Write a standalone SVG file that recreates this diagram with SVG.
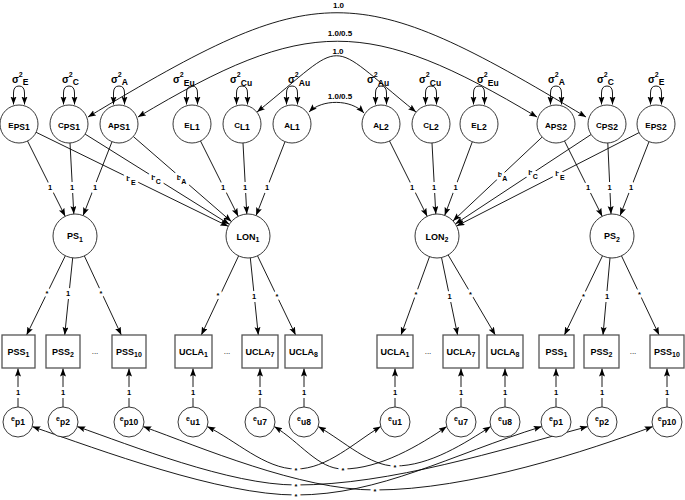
<svg xmlns="http://www.w3.org/2000/svg" width="685" height="500" viewBox="0 0 685 500">
<defs>
<marker id="ah" markerWidth="9" markerHeight="7" refX="8" refY="3" orient="auto-start-reverse" markerUnits="userSpaceOnUse"><path d="M0,0 L8,3 L0,6 L1.5,3 z" fill="#000"/></marker>
<style>
text{font-family:"Liberation Sans",Arial,sans-serif;font-weight:bold;fill:#000}
.ln{stroke:#000;stroke-width:0.9;fill:none}
.arr{marker-end:url(#ah)}
.both{marker-start:url(#ah);marker-end:url(#ah)}
.nd circle{fill:#fff;stroke:#222;stroke-width:0.9}
.bx{fill:#fff;stroke:#555;stroke-width:1.3}
.lbl{font-size:7.5px;text-anchor:middle;stroke:#fff;stroke-width:6;paint-order:stroke;stroke-linejoin:round}
.arc{font-size:8px;text-anchor:middle}
.sg{font-size:10px}
.t{text-anchor:middle;font-size:8px}
.m{text-anchor:middle;font-size:9px}
.e{text-anchor:middle;font-size:7px}
.dots{font-size:8px;text-anchor:middle;font-weight:normal}
</style>
</defs>
<g id="connectors">
<path class="ln both" d="M88,117 C319,-22 355,-22 586,117"/>
<path class="ln both" d="M138,117 C307,16 368,16 537,117"/>
<path class="ln both" d="M257,112 C350,37 323,37 416,112"/>
<path class="ln both" d="M309,112 C322,99 351,99 364,113"/>
<g class="ln both">
<path d="M13.5,104.5 L13.5,93 Q13.5,86 19,86 Q24.5,86 24.5,93 L24.5,104.5"/>
<path d="M63.5,104.5 L63.5,93 Q63.5,86 69,86 Q74.5,86 74.5,93 L74.5,104.5"/>
<path d="M113.5,104.5 L113.5,93 Q113.5,86 119,86 Q124.5,86 124.5,93 L124.5,104.5"/>
<path d="M186.5,104.5 L186.5,93 Q186.5,86 192,86 Q197.5,86 197.5,93 L197.5,104.5"/>
<path d="M236.5,104.5 L236.5,93 Q236.5,86 242,86 Q247.5,86 247.5,93 L247.5,104.5"/>
<path d="M286.5,104.5 L286.5,93 Q286.5,86 292,86 Q297.5,86 297.5,93 L297.5,104.5"/>
<path d="M375.5,104.5 L375.5,93 Q375.5,86 381,86 Q386.5,86 386.5,93 L386.5,104.5"/>
<path d="M425.5,104.5 L425.5,93 Q425.5,86 431,86 Q436.5,86 436.5,93 L436.5,104.5"/>
<path d="M473.5,104.5 L473.5,93 Q473.5,86 479,86 Q484.5,86 484.5,93 L484.5,104.5"/>
<path d="M550.5,104.5 L550.5,93 Q550.5,86 556,86 Q561.5,86 561.5,93 L561.5,104.5"/>
<path d="M601.5,104.5 L601.5,93 Q601.5,86 607,86 Q612.5,86 612.5,93 L612.5,104.5"/>
<path d="M650.5,104.5 L650.5,93 Q650.5,86 656,86 Q661.5,86 661.5,93 L661.5,104.5"/>
</g>
<g class="ln arr">
<line x1="27.5" y1="141" x2="65.2" y2="216.3"/>
<line x1="70" y1="143" x2="73.8" y2="214"/>
<line x1="112" y1="141.7" x2="83.1" y2="215.5"/>
<line x1="36.1" y1="132.3" x2="228.2" y2="226.3"/>
<line x1="85.1" y1="134.1" x2="229.3" y2="224.3"/>
<line x1="133.3" y1="136.5" x2="231.4" y2="221.6"/>
<line x1="200.5" y1="141" x2="238.2" y2="216.3"/>
<line x1="243" y1="143" x2="246.8" y2="214"/>
<line x1="285" y1="141.7" x2="256.1" y2="215.5"/>
<line x1="389.5" y1="141" x2="427.2" y2="216.3"/>
<line x1="432" y1="143" x2="435.8" y2="214"/>
<line x1="472.3" y1="141.8" x2="444.7" y2="215.4"/>
<line x1="542.2" y1="137" x2="453" y2="220.9"/>
<line x1="591.1" y1="134.5" x2="455.4" y2="223.9"/>
<line x1="639.1" y1="132.6" x2="456.6" y2="226"/>
<line x1="564.5" y1="141" x2="602.2" y2="216.3"/>
<line x1="607.8" y1="143" x2="611" y2="214"/>
<line x1="649" y1="141.7" x2="620.1" y2="215.5"/>
<line x1="65.3" y1="255.8" x2="26.6" y2="335"/>
<line x1="72.7" y1="257.9" x2="64.7" y2="335"/>
<line x1="84.3" y1="255.8" x2="121.3" y2="335"/>
<line x1="238.6" y1="255.9" x2="201.3" y2="335"/>
<line x1="250.3" y1="257.9" x2="258.3" y2="335"/>
<line x1="257.5" y1="255.8" x2="295.6" y2="335"/>
<line x1="429.5" y1="256.7" x2="401" y2="335"/>
<line x1="441.5" y1="257.5" x2="457.6" y2="335"/>
<line x1="448.2" y1="255" x2="495.3" y2="335"/>
<line x1="602.5" y1="255.8" x2="564.4" y2="335"/>
<line x1="610" y1="257.9" x2="603" y2="335"/>
<line x1="621.5" y1="255.9" x2="659.1" y2="335"/>
<line x1="18" y1="407" x2="18" y2="368.5"/>
<line x1="63" y1="407" x2="63" y2="368.5"/>
<line x1="129" y1="407" x2="129" y2="368.5"/>
<line x1="193" y1="407" x2="193" y2="368.5"/>
<line x1="260" y1="407" x2="260" y2="368.5"/>
<line x1="304" y1="407" x2="304" y2="368.5"/>
<line x1="395" y1="407" x2="395" y2="368.5"/>
<line x1="461" y1="407" x2="461" y2="368.5"/>
<line x1="505" y1="407" x2="505" y2="368.5"/>
<line x1="556" y1="407" x2="556" y2="368.5"/>
<line x1="602" y1="407" x2="602" y2="368.5"/>
<line x1="667" y1="407" x2="667" y2="368.5"/>
</g>
<g class="ln both">
<path d="M207.3,426.6 C235,440 265,469 296,469 C327,469 355,442 380.7,426.6"/>
<path d="M274.3,426.6 C300,442 318,469 343,469 C380,469 420,445 446.7,426.6"/>
<path d="M318.3,426.6 C345,442 370,466 395,466 C430,466 465,443 490.7,426.6"/>
<path d="M32.3,426.6 C100,450 220,495 296,495 C380,495 450,455 541.7,426.6"/>
<path d="M77.3,426.6 C130,445 230,485 296,485 C390,485 500,450 587.7,426.6"/>
<path d="M143.3,426.6 C200,447 300,490 375,490 C470,490 590,450 652.7,426.6"/>
</g>
<text class="arc" x="338.5" y="7.5">1.0</text>
<text class="arc" x="340" y="36">1.0/0.5</text>
<text class="arc" x="338" y="53.5">1.0</text>
<text class="arc" x="340" y="99">1.0/0.5</text>
<g class="lbl">
<text x="50" y="190">1</text>
<text x="72" y="190">1</text>
<text x="95" y="190">1</text>
<text x="131" y="180.5">b<tspan font-size="7" dy="4">E</tspan></text>
<text x="156" y="180">b<tspan font-size="7" dy="4">C</tspan></text>
<text x="181.5" y="180">b<tspan font-size="7" dy="4">A</tspan></text>
<text x="223" y="190">1</text>
<text x="245" y="190">1</text>
<text x="267" y="190">1</text>
<text x="412" y="190">1</text>
<text x="434" y="190">1</text>
<text x="455.5" y="190">1</text>
<text x="502.5" y="176.5">b<tspan font-size="7" dy="4">A</tspan></text>
<text x="533" y="175">b<tspan font-size="7" dy="4">C</tspan></text>
<text x="560" y="175.5">b<tspan font-size="7" dy="4">E</tspan></text>
<text x="588" y="190">1</text>
<text x="609.5" y="190">1</text>
<text x="631" y="190">1</text>
<text x="47" y="296">*</text>
<text x="68" y="296">1</text>
<text x="101" y="296">*</text>
<text x="218" y="298">*</text>
<text x="254" y="299">1</text>
<text x="277" y="299">*</text>
<text x="416" y="297">*</text>
<text x="449.5" y="299">1</text>
<text x="470.5" y="297">*</text>
<text x="583.5" y="299">*</text>
<text x="607" y="299">1</text>
<text x="639.5" y="297">*</text>
<text x="18" y="394.7">1</text>
<text x="63" y="394.7">1</text>
<text x="129" y="394.7">1</text>
<text x="193" y="394.7">1</text>
<text x="260" y="394.7">1</text>
<text x="304" y="394.7">1</text>
<text x="395" y="394.7">1</text>
<text x="461" y="394.7">1</text>
<text x="505" y="394.7">1</text>
<text x="556" y="394.7">1</text>
<text x="602" y="394.7">1</text>
<text x="667" y="394.7">1</text>
<text x="296" y="473">*</text>
<text x="343" y="473">*</text>
<text x="395" y="470">*</text>
<text x="296" y="489">*</text>
<text x="375" y="494">*</text>
<text x="296" y="499">*</text>
</g>
</g>
<g id="variances">
<text class="sg" x="12" y="82.5">σ<tspan font-size="7" dy="-6">2</tspan><tspan font-size="8.5" dy="8.5">E</tspan></text>
<text class="sg" x="62" y="82.5">σ<tspan font-size="7" dy="-6">2</tspan><tspan font-size="8.5" dy="8.5">C</tspan></text>
<text class="sg" x="111" y="82.5">σ<tspan font-size="7" dy="-6">2</tspan><tspan font-size="8.5" dy="8.5">A</tspan></text>
<text class="sg" x="173" y="83">σ<tspan font-size="7" dy="-6">2</tspan><tspan font-size="8.5" dy="8.5">Eu</tspan></text>
<text class="sg" x="230" y="83">σ<tspan font-size="7" dy="-6">2</tspan><tspan font-size="8.5" dy="8.5">Cu</tspan></text>
<text class="sg" x="288" y="83">σ<tspan font-size="7" dy="-6">2</tspan><tspan font-size="8.5" dy="8.5">Au</tspan></text>
<text class="sg" x="367" y="83">σ<tspan font-size="7" dy="-6">2</tspan><tspan font-size="8.5" dy="8.5">Au</tspan></text>
<text class="sg" x="419" y="83">σ<tspan font-size="7" dy="-6">2</tspan><tspan font-size="8.5" dy="8.5">Cu</tspan></text>
<text class="sg" x="477" y="83">σ<tspan font-size="7" dy="-6">2</tspan><tspan font-size="8.5" dy="8.5">Eu</tspan></text>
<text class="sg" x="548" y="82.5">σ<tspan font-size="7" dy="-6">2</tspan><tspan font-size="8.5" dy="8.5">A</tspan></text>
<text class="sg" x="597" y="82.5">σ<tspan font-size="7" dy="-6">2</tspan><tspan font-size="8.5" dy="8.5">C</tspan></text>
<text class="sg" x="648" y="82.5">σ<tspan font-size="7" dy="-6">2</tspan><tspan font-size="8.5" dy="8.5">E</tspan></text>
</g>
<g id="E_PS1" class="nd"><circle cx="19" cy="124" r="19"/><text class="t" x="19" y="128">E<tspan font-size="8.5" dy="2">PS1</tspan></text></g>
<g id="C_PS1" class="nd"><circle cx="69" cy="124" r="19"/><text class="t" x="69" y="128">C<tspan font-size="8.5" dy="2">PS1</tspan></text></g>
<g id="A_PS1" class="nd"><circle cx="119" cy="124" r="19"/><text class="t" x="119" y="128">A<tspan font-size="8.5" dy="2">PS1</tspan></text></g>
<g id="E_L1" class="nd"><circle cx="192" cy="124" r="19"/><text class="t" x="192" y="128">E<tspan font-size="8.5" dy="2">L1</tspan></text></g>
<g id="C_L1" class="nd"><circle cx="242" cy="124" r="19"/><text class="t" x="242" y="128">C<tspan font-size="8.5" dy="2">L1</tspan></text></g>
<g id="A_L1" class="nd"><circle cx="292" cy="124" r="19"/><text class="t" x="292" y="128">A<tspan font-size="8.5" dy="2">L1</tspan></text></g>
<g id="A_L2" class="nd"><circle cx="381" cy="124" r="19"/><text class="t" x="381" y="128">A<tspan font-size="8.5" dy="2">L2</tspan></text></g>
<g id="C_L2" class="nd"><circle cx="431" cy="124" r="19"/><text class="t" x="431" y="128">C<tspan font-size="8.5" dy="2">L2</tspan></text></g>
<g id="E_L2" class="nd"><circle cx="479" cy="124" r="19"/><text class="t" x="479" y="128">E<tspan font-size="8.5" dy="2">L2</tspan></text></g>
<g id="A_PS2" class="nd"><circle cx="556" cy="124" r="19"/><text class="t" x="556" y="128">A<tspan font-size="8.5" dy="2">PS2</tspan></text></g>
<g id="C_PS2" class="nd"><circle cx="607" cy="124" r="19"/><text class="t" x="607" y="128">C<tspan font-size="8.5" dy="2">PS2</tspan></text></g>
<g id="E_PS2" class="nd"><circle cx="656" cy="124" r="19"/><text class="t" x="656" y="128">E<tspan font-size="8.5" dy="2">PS2</tspan></text></g>
<g id="PS1" class="nd"><circle cx="75" cy="236" r="22"/><text class="m" x="75" y="239">PS<tspan font-size="7" dy="2.5">1</tspan></text></g>
<g id="LON1" class="nd"><circle cx="248" cy="236" r="22"/><text class="m" x="248" y="239.5">LON<tspan font-size="7" dy="2.5">1</tspan></text></g>
<g id="LON2" class="nd"><circle cx="437" cy="236" r="22"/><text class="m" x="437" y="239.5">LON<tspan font-size="7" dy="2.5">2</tspan></text></g>
<g id="PS2" class="nd"><circle cx="612" cy="236" r="22"/><text class="m" x="612" y="239">PS<tspan font-size="7" dy="2.5">2</tspan></text></g>
<g id="PSS1a"><rect class="bx" x="2" y="335" width="33" height="33"/><text class="m" x="18.5" y="354.5">PSS<tspan font-size="7" dy="2.5">1</tspan></text></g>
<g id="PSS2a"><rect class="bx" x="46" y="335" width="34" height="33"/><text class="m" x="63" y="354.5">PSS<tspan font-size="7" dy="2.5">2</tspan></text></g>
<text class="dots" x="95" y="354">...</text>
<g id="PSS10a"><rect class="bx" x="112" y="335" width="34" height="33"/><text class="m" x="129" y="354.5">PSS<tspan font-size="7" dy="2.5">10</tspan></text></g>
<g id="UCLA1a"><rect class="bx" x="175" y="335" width="37" height="33"/><text class="m" x="193.5" y="354.5">UCLA<tspan font-size="7" dy="2.5">1</tspan></text></g>
<text class="dots" x="227" y="354">...</text>
<g id="UCLA7a"><rect class="bx" x="242" y="335" width="36" height="33"/><text class="m" x="260" y="354.5">UCLA<tspan font-size="7" dy="2.5">7</tspan></text></g>
<g id="UCLA8a"><rect class="bx" x="285" y="335" width="37" height="33"/><text class="m" x="303.5" y="354.5">UCLA<tspan font-size="7" dy="2.5">8</tspan></text></g>
<g id="UCLA1b"><rect class="bx" x="377" y="335" width="36" height="33"/><text class="m" x="395" y="354.5">UCLA<tspan font-size="7" dy="2.5">1</tspan></text></g>
<text class="dots" x="428" y="354">...</text>
<g id="UCLA7b"><rect class="bx" x="443" y="335" width="36" height="33"/><text class="m" x="461" y="354.5">UCLA<tspan font-size="7" dy="2.5">7</tspan></text></g>
<g id="UCLA8b"><rect class="bx" x="487" y="335" width="36" height="33"/><text class="m" x="505" y="354.5">UCLA<tspan font-size="7" dy="2.5">8</tspan></text></g>
<g id="PSS1b"><rect class="bx" x="539" y="335" width="35" height="33"/><text class="m" x="556.5" y="354.5">PSS<tspan font-size="7" dy="2.5">1</tspan></text></g>
<g id="PSS2b"><rect class="bx" x="584" y="335" width="35" height="33"/><text class="m" x="601.5" y="354.5">PSS<tspan font-size="7" dy="2.5">2</tspan></text></g>
<text class="dots" x="633" y="354">...</text>
<g id="PSS10b"><rect class="bx" x="650" y="335" width="34" height="33"/><text class="m" x="667" y="354.5">PSS<tspan font-size="7" dy="2.5">10</tspan></text></g>
<g id="ep1a" class="nd"><circle cx="18" cy="422" r="15"/><text class="e" x="18" y="421">e<tspan font-size="8.5" dy="4">p1</tspan></text></g>
<g id="ep2a" class="nd"><circle cx="63" cy="422" r="15"/><text class="e" x="63" y="421">e<tspan font-size="8.5" dy="4">p2</tspan></text></g>
<g id="ep10a" class="nd"><circle cx="129" cy="422" r="15"/><text class="e" x="129" y="421">e<tspan font-size="8.5" dy="4">p10</tspan></text></g>
<g id="eu1a" class="nd"><circle cx="193" cy="422" r="15"/><text class="e" x="193" y="421">e<tspan font-size="8.5" dy="4">u1</tspan></text></g>
<g id="eu7a" class="nd"><circle cx="260" cy="422" r="15"/><text class="e" x="260" y="421">e<tspan font-size="8.5" dy="4">u7</tspan></text></g>
<g id="eu8a" class="nd"><circle cx="304" cy="422" r="15"/><text class="e" x="304" y="421">e<tspan font-size="8.5" dy="4">u8</tspan></text></g>
<g id="eu1b" class="nd"><circle cx="395" cy="422" r="15"/><text class="e" x="395" y="421">e<tspan font-size="8.5" dy="4">u1</tspan></text></g>
<g id="eu7b" class="nd"><circle cx="461" cy="422" r="15"/><text class="e" x="461" y="421">e<tspan font-size="8.5" dy="4">u7</tspan></text></g>
<g id="eu8b" class="nd"><circle cx="505" cy="422" r="15"/><text class="e" x="505" y="421">e<tspan font-size="8.5" dy="4">u8</tspan></text></g>
<g id="ep1b" class="nd"><circle cx="556" cy="422" r="15"/><text class="e" x="556" y="421">e<tspan font-size="8.5" dy="4">p1</tspan></text></g>
<g id="ep2b" class="nd"><circle cx="602" cy="422" r="15"/><text class="e" x="602" y="421">e<tspan font-size="8.5" dy="4">p2</tspan></text></g>
<g id="ep10b" class="nd"><circle cx="667" cy="422" r="15"/><text class="e" x="667" y="421">e<tspan font-size="8.5" dy="4">p10</tspan></text></g>
</svg>
